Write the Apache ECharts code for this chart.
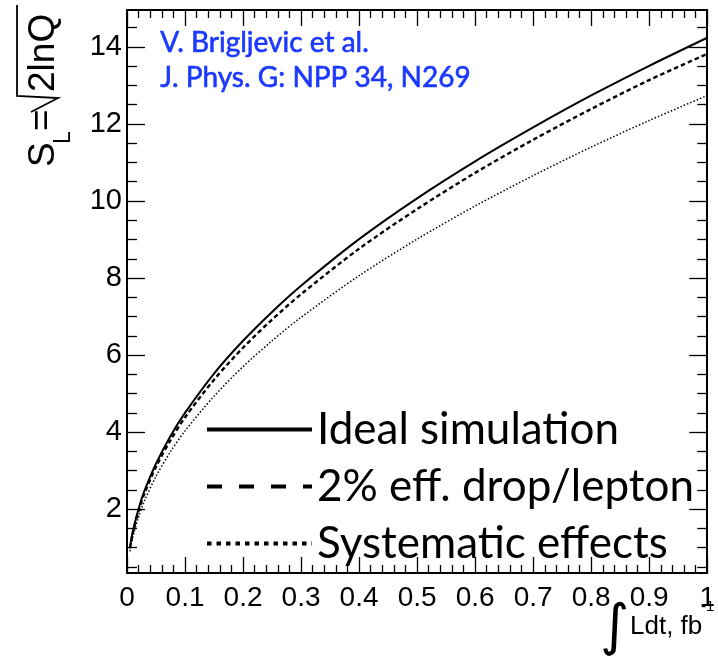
<!DOCTYPE html>
<html>
<head>
<meta charset="utf-8">
<script src="https://cdn.jsdelivr.net/npm/echarts@6/dist/echarts.min.js"></script>
<style>
html,body{margin:0;padding:0;background:#fff;}
#chart{width:718px;height:657px;}
</style>
</head>
<body>
<div id="chart"></div>
<script>
// ---- data ----
const lumi = [0.005, 0.01, 0.02, 0.03, 0.05, 0.075, 0.1, 0.15, 0.2, 0.25, 0.3, 0.4, 0.5, 0.6, 0.7, 0.8, 0.9, 1.0];
const idealSim   = [1.00, 1.42, 2.01, 2.47, 3.18, 3.90, 4.50, 5.52, 6.37, 7.12, 7.80, 9.01, 10.07, 11.03, 11.91, 12.74, 13.51, 14.24];
const effDrop    = [0.98, 1.38, 1.96, 2.40, 3.10, 3.79, 4.38, 5.36, 6.19, 6.92, 7.58, 8.76, 9.79, 10.73, 11.59, 12.39, 13.14, 13.82];
const systematic = [0.90, 1.27, 1.80, 2.21, 2.85, 3.49, 4.03, 4.93, 5.70, 6.37, 6.98, 8.06, 9.01, 9.87, 10.66, 11.40, 12.09, 12.74];
const seriesNames = ['Ideal simulation', '2% eff. drop/lepton', 'Systematic effects'];
const yMajorTicks = [2, 4, 6, 8, 10, 12, 14];
const yMinorTicks = [0.5, 1, 1.5, 2.5, 3, 3.5, 4.5, 5, 5.5, 6.5, 7, 7.5, 8.5, 9, 9.5, 10.5, 11, 11.5, 12.5, 13, 13.5, 14.5];
const yMin = 0.34, yMax = 14.96;

const pairs = arr => lumi.map((x, i) => [x, arr[i]]);

const chart = echarts.init(document.getElementById('chart'), null, {renderer: 'canvas'});
const tickStyle = {color: '#000', width: 1.3};
const frameLine = {show: true, lineStyle: {color: '#000', width: 2}};

function xAx(pos, labels) {
  return {
    type: 'value', min: 0, max: 1, interval: 0.1, position: pos,
    axisLine: frameLine,
    axisTick: {show: true, inside: true, length: 16, lineStyle: tickStyle},
    minorTick: {show: true, splitNumber: 5, length: 8, lineStyle: tickStyle},
    splitLine: {show: false}, minorSplitLine: {show: false},
    axisLabel: labels ? {
      show: true, fontSize: 28, fontFamily: 'Liberation Sans', color: '#000', margin: 11,
      formatter: v => String(Math.round(v * 10) / 10)
    } : {show: false}
  };
}
function yAx(pos, ticks, len, labels, line) {
  return {
    type: 'value', min: yMin, max: yMax, position: pos,
    axisLine: line ? frameLine : {show: false},
    axisTick: {show: true, inside: true, length: len, customValues: ticks, lineStyle: tickStyle},
    splitLine: {show: false},
    axisLabel: labels ? {
      show: true, customValues: ticks, fontSize: 29, fontFamily: 'Liberation Sans', color: '#000', margin: 5
    } : {show: false}
  };
}

const noSym = {opacity: 0, color: 'rgba(0,0,0,0)', borderWidth: 0};
const blue = '#1a38ff';
const option = {
  backgroundColor: '#fff',
  animation: false,
  grid: {left: 127, right: 7, top: 10, bottom: 84, containLabel: false},
  xAxis: [xAx('bottom', true), xAx('top', false)],
  yAxis: [
    yAx('left', yMajorTicks, 18, true, true),
    yAx('left', yMinorTicks, 10, false, false),
    yAx('right', yMajorTicks, 18, false, true),
    yAx('right', yMinorTicks, 10, false, false)
  ],
  legend: {
    orient: 'vertical', left: 200, top: 396,
    itemWidth: 105, itemHeight: 20, itemGap: 0,
    textStyle: {fontSize: 44, fontFamily: 'Lato', color: '#000', lineHeight: 57},
    data: [
      {name: seriesNames[0], itemStyle: noSym, lineStyle: {width: 4, type: 'solid', color: '#000'}},
      {name: seriesNames[1], itemStyle: noSym, lineStyle: {width: 4, type: [15, 17], color: '#000'}},
      {name: seriesNames[2], itemStyle: noSym, lineStyle: {width: 4, type: [4.5, 5], color: '#000'}}
    ]
  },
  series: [
    {name: seriesNames[0], type: 'line', data: pairs(idealSim), symbol: 'none', smooth: 0.3,
     lineStyle: {color: '#000', width: 2, type: 'solid'}, itemStyle: {color: '#000'}},
    {name: seriesNames[1], type: 'line', data: pairs(effDrop), symbol: 'none', smooth: 0.3,
     lineStyle: {color: '#000', width: 2.4, type: [4.5, 3]}, itemStyle: {color: '#000'}},
    {name: seriesNames[2], type: 'line', data: pairs(systematic), symbol: 'none', smooth: 0.3,
     lineStyle: {color: '#000', width: 1.5, type: [1.5, 2]}, itemStyle: {color: '#000'}}
  ],
  graphic: [
    {type: 'text', left: 160, top: 29, style: {text: 'V. Brigljevic et al.', font: '28px Lato', fill: blue, stroke: blue, lineWidth: 0.6}},
    {type: 'text', left: 160, top: 64, style: {text: 'J. Phys. G: NPP 34, N269', font: '28px Lato', fill: blue, stroke: blue, lineWidth: 0.6}},
    // y-axis title rotated
    {type: 'group', x: 57, y: 167, rotation: Math.PI / 2, children: [
      {type: 'text', x: 0, y: -13, style: {text: 'S', font: '37px "Liberation Sans"', fill: '#000', verticalAlign: 'middle'}},
      {type: 'text', x: 23, y: 7, style: {text: 'L', font: '23px "Liberation Sans"', fill: '#000', verticalAlign: 'middle'}},
      {type: 'text', x: 36, y: -14, style: {text: '=', font: '37px "Liberation Sans"', fill: '#000', verticalAlign: 'middle'}},
      {type: 'polyline', shape: {points: [[55, -26], [69, 1], [71, -40], [162, -40]]}, style: {stroke: '#000', lineWidth: 1.8, fill: null}},
      {type: 'text', x: 75, y: -13, style: {text: '2lnQ', font: '37px "Liberation Sans"', fill: '#000', verticalAlign: 'middle'}}
    ]},
    // x-axis title
    {type: 'text', x: 600, y: 629, style: {text: '\u222B', font: '56px "DejaVu Sans"', fill: '#000', verticalAlign: 'middle'}},
    {type: 'text', x: 630, y: 627, style: {text: 'Ldt, fb', font: '26px "Liberation Sans"', fill: '#000', verticalAlign: 'middle'}},
    {type: 'text', x: 701, y: 607, style: {text: '-1', font: '15px "Liberation Sans"', fill: '#000', verticalAlign: 'middle'}}
  ]
};
chart.setOption(option);
</script>
</body>
</html>
